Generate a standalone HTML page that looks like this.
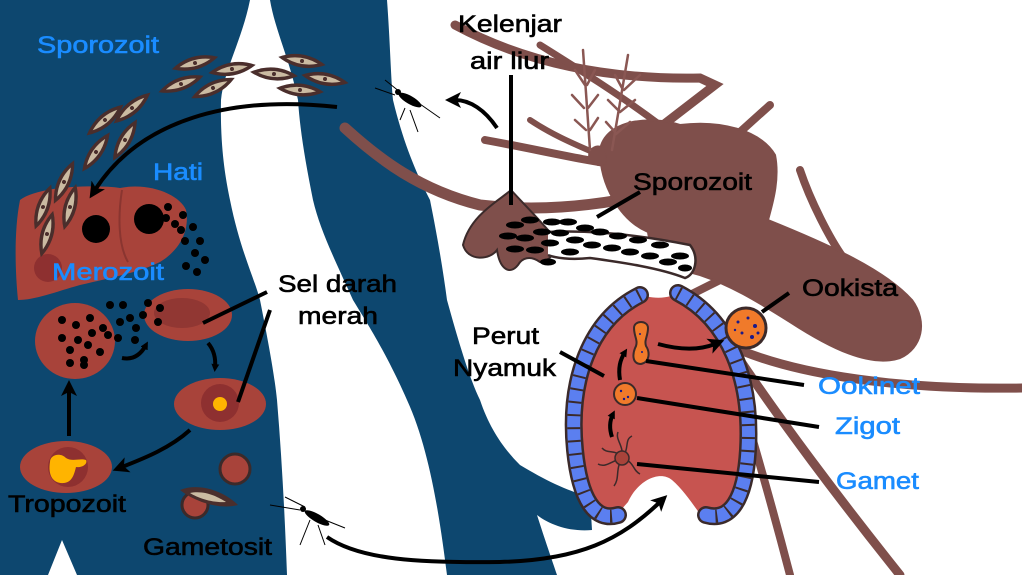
<!DOCTYPE html>
<html><head><meta charset="utf-8"><style>
html,body{margin:0;padding:0;background:#fff;}
svg{display:block;}
text{font-family:"Liberation Sans",sans-serif;font-size:24px;stroke-width:0.6px;}
</style></head><body>
<svg width="1022" height="575" viewBox="0 0 1022 575" xmlns="http://www.w3.org/2000/svg">
<defs>
<g id="spz"><path d="M-24,0 Q0,-13 24,0 Q0,13 -24,0Z" fill="#4a2e2c"/><path d="M-16,0 Q0,-6 16,0 Q0,6 -16,0Z" fill="#cbbba2"/><circle r="2" fill="#4a2e2c"/></g>
<marker id="ah" markerWidth="8" markerHeight="8" refX="4" refY="4" orient="auto" markerUnits="userSpaceOnUse"><path d="M0,0 L8,4 L0,8Z" fill="#000"/></marker>
<marker id="ab" markerWidth="16" markerHeight="16" refX="6" refY="8" orient="auto" markerUnits="userSpaceOnUse"><path d="M0,0 L16,8 L0,16 L4,8Z" fill="#000"/></marker>
</defs>
<!-- blue vessels -->
<path d="M0,0 L250,0 C242,40 224,70 221,100 C220,150 226,180 230,200 C240,250 255,280 260,300 C270,350 275,380 277,400 C282,460 285,520 287,575 L77,575 L62,540 L48,575 L0,575Z" fill="#0d476f"/>
<path d="M270,0 L387,0 C390,40 391,80 393,100 C405,150 420,180 430,200 C438,240 443,270 447,300 C458,340 470,380 480,400 C490,430 505,450 520,465 C545,480 565,490 590,497 L592,530 C570,532 550,525 537,515 C545,540 552,560 557,575 L447,575 C440,520 430,450 407,400 C385,350 365,320 353,300 C335,260 320,230 313,200 C305,160 300,130 298,100 C290,60 275,30 270,0Z" fill="#0d476f"/>
<!-- big mosquito -->
<g fill="#7f4f4b" stroke="#7f4f4b" stroke-linecap="round">
<path d="M455,25 C520,60 600,80 700,78 L715,85 L650,135" fill="none" stroke-width="9"/>
<path d="M540,45 C580,70 620,95 660,125" fill="none" stroke-width="7"/>
<path d="M770,105 L720,150" fill="none" stroke-width="8"/>
<path d="M345,128 C380,160 420,190 480,205 C540,212 590,205 620,200" fill="none" stroke-width="11"/>
<path d="M485,140 C540,150 580,160 620,165" fill="none" stroke-width="8"/>
<path d="M530,120 C560,140 590,150 610,160" fill="none" stroke-width="6"/>
<path d="M800,170 C810,200 830,240 845,260" fill="none" stroke-width="8"/>
<path d="M740,350 C800,375 900,390 1022,388" fill="none" stroke-width="9"/>
<path d="M740,360 C780,420 840,500 900,575" fill="none" stroke-width="9"/>
<path d="M720,330 C735,380 760,460 790,575" fill="none" stroke-width="8"/>
<path d="M680,300 L740,270" fill="none" stroke-width="8"/>
<path d="M600,150 C605,120 650,115 680,125 C720,120 760,130 775,155 C780,180 772,205 768,220 C830,245 885,270 912,300 C928,322 922,348 900,358 C870,368 830,348 790,322 C755,300 730,285 700,275 C670,268 650,250 648,232 C620,220 600,185 600,150Z" stroke-width="2"/>
<path d="M590,150 C600,140 610,150 605,165 C595,168 585,160 590,150Z"/>
</g>
<!-- antennae -->
<g stroke="#8a5753" stroke-width="2.5" fill="none" stroke-linecap="round">
<path d="M583,50 L590,150 M575,70 L585,85 M595,70 L587,85 M572,95 L584,108 M598,95 L588,108 M575,120 L586,130 M598,118 L590,130"/>
<path d="M628,55 L612,150 M615,75 L622,88 M640,75 L624,90 M608,100 L618,110 M635,100 L620,112 M606,122 L615,132 M630,122 L616,134"/>
</g>
<!-- salivary gland -->
<path d="M511,190 C500,200 470,215 463,245 C468,262 490,260 497,250 C500,270 510,275 518,265 C522,258 530,255 540,262 C555,260 560,245 548,230 C535,215 520,200 511,190Z" fill="#7f4f4b" stroke="#3b2a2a" stroke-width="2"/>
<path d="M548,232 C590,230 640,235 690,245 C700,258 695,275 685,278 C660,268 620,262 590,258 C570,260 555,258 548,255" fill="#fff" stroke="#3b2a2a" stroke-width="2.5"/>
<g fill="#000">
<ellipse cx="515" cy="225" rx="9" ry="3.5"/><ellipse cx="530" cy="220" rx="9" ry="3.5"/><ellipse cx="508" cy="236" rx="9" ry="3.5"/><ellipse cx="525" cy="238" rx="9" ry="3.5"/><ellipse cx="542" cy="232" rx="9" ry="3.5"/><ellipse cx="515" cy="249" rx="9" ry="3.5"/><ellipse cx="535" cy="250" rx="9" ry="3.5"/><ellipse cx="550" cy="243" rx="9" ry="3.5"/><ellipse cx="552" cy="222" rx="9" ry="3.5"/><ellipse cx="560" cy="233" rx="9" ry="3.5"/><ellipse cx="568" cy="222" rx="9" ry="3.5"/><ellipse cx="575" cy="240" rx="9" ry="3.5"/><ellipse cx="585" cy="228" rx="9" ry="3.5"/><ellipse cx="592" cy="245" rx="9" ry="3.5"/><ellipse cx="600" cy="232" rx="9" ry="3.5"/><ellipse cx="612" cy="248" rx="9" ry="3.5"/><ellipse cx="618" cy="236" rx="9" ry="3.5"/><ellipse cx="630" cy="252" rx="9" ry="3.5"/><ellipse cx="638" cy="240" rx="9" ry="3.5"/><ellipse cx="650" cy="256" rx="9" ry="3.5"/><ellipse cx="660" cy="245" rx="9" ry="3.5"/><ellipse cx="668" cy="262" rx="9" ry="3.5"/><ellipse cx="680" cy="256" rx="9" ry="3.5"/><ellipse cx="685" cy="268" rx="7" ry="3.5"/><ellipse cx="570" cy="252" rx="9" ry="3.5"/><ellipse cx="548" cy="262" rx="8" ry="3.5"/>
</g>
<line x1="511" y1="75" x2="511" y2="205" stroke="#000" stroke-width="4"/>
<line x1="640" y1="192" x2="597" y2="217" stroke="#000" stroke-width="4"/>
<!-- stomach -->
<path d="M636,292 C590,320 568,380 575,450 C580,500 595,520 612,520 L628,502 C638,480 660,470 672,480 C686,492 696,510 705,520 L712,520 C730,520 745,500 748,450 C752,380 730,320 682,290 C670,300 650,300 636,292Z" fill="#c75450"/>
<g fill="none" stroke-linecap="round">
<path d="M640,295 C590,320 568,380 575,450 C580,500 595,522 618,515" stroke="#3b2a2a" stroke-width="18"/>
<path d="M678,293 C730,320 752,380 748,450 C745,500 730,522 706,515" stroke="#3b2a2a" stroke-width="18"/>
<path d="M640,295 C590,320 568,380 575,450 C580,500 595,522 618,515" stroke="#5b7ff0" stroke-width="13"/>
<path d="M678,293 C730,320 752,380 748,450 C745,500 730,522 706,515" stroke="#5b7ff0" stroke-width="13"/>
<path d="M640,295 C590,320 568,380 575,450 C580,500 595,522 618,515" stroke="#3b2a2a" stroke-width="13" stroke-dasharray="2 11" stroke-linecap="butt"/>
<path d="M678,293 C730,320 752,380 748,450 C745,500 730,522 706,515" stroke="#3b2a2a" stroke-width="13" stroke-dasharray="2 11" stroke-linecap="butt"/>
</g>
<!-- ookista -->
<circle cx="746" cy="328" r="20" fill="#f07a2a" stroke="#3b2a2a" stroke-width="3"/>
<g fill="#1a1a8a"><circle cx="738" cy="322" r="1.5"/><circle cx="748" cy="318" r="1.5"/><circle cx="755" cy="326" r="2"/><circle cx="742" cy="333" r="1.5"/><circle cx="752" cy="337" r="2"/><circle cx="735" cy="330" r="1.2"/><circle cx="758" cy="333" r="1.5"/></g>
<line x1="762" y1="312" x2="789" y2="293" stroke="#000" stroke-width="4"/>
<!-- ookinet -->
<path d="M634,328 C634,320 648,320 648,328 C648,336 644,340 646,346 C650,352 650,362 641,364 C632,364 632,354 636,346 C638,340 634,336 634,328Z" fill="#f07a2a" stroke="#3b2a2a" stroke-width="2"/>
<circle cx="625" cy="394" r="11" fill="#f07a2a" stroke="#3b2a2a" stroke-width="2"/>
<g fill="#1a1a8a"><circle cx="621" cy="391" r="1.2"/><circle cx="628" cy="397" r="1.2"/><circle cx="624" cy="399" r="1.2"/><circle cx="640" cy="334" r="1"/><circle cx="642" cy="352" r="1"/></g>
<!-- gamet -->
<g stroke="#3b2a2a" stroke-width="1.5" fill="none"><path d="M622,458 C615,448 608,455 602,448 M622,458 C630,448 624,440 632,436 M622,458 C635,462 632,470 640,474 M622,458 C615,470 620,478 614,486 M622,458 C610,462 605,468 598,464 M622,458 C624,445 615,440 618,432"/></g>
<circle cx="622" cy="458" r="7" fill="#a8433a" stroke="#3b2a2a" stroke-width="1.5"/>
<g stroke="#000" stroke-width="4" fill="none">
<line x1="646" y1="361" x2="804" y2="385"/>
<line x1="637" y1="398" x2="819" y2="427"/>
<line x1="637" y1="464" x2="819" y2="482"/>
<line x1="560" y1="352" x2="604" y2="376"/>
<path d="M612,437 C609,428 610,420 613,414" marker-end="url(#ah)"/>
<path d="M620,380 C618,368 620,360 625,352" marker-end="url(#ah)"/>
<path d="M658,344 C680,350 700,350 715,344" marker-end="url(#ab)"/>
</g>
<!-- liver -->
<path d="M20,200 C40,185 100,185 120,188 C150,182 180,195 186,210 C190,230 180,250 160,262 C140,272 110,278 80,285 C55,292 35,300 18,300 C15,270 14,230 20,200Z" fill="#a8433a"/>
<path d="M122,190 C118,215 118,245 128,262" stroke="#8a3530" stroke-width="2" fill="none"/>
<ellipse cx="48" cy="268" rx="14" ry="14" fill="#8e3030"/>
<circle cx="96" cy="229" r="14" fill="#000"/>
<circle cx="149" cy="219" r="15" fill="#000"/>
<g fill="#000"><circle cx="168" cy="207" r="4"/><circle cx="166" cy="218" r="4"/><circle cx="175" cy="224" r="4"/><circle cx="183" cy="215" r="4"/><circle cx="181" cy="230" r="4"/><circle cx="193" cy="227" r="4"/><circle cx="185" cy="241" r="4"/><circle cx="200" cy="241" r="4"/><circle cx="195" cy="253" r="4"/><circle cx="205" cy="260" r="4"/><circle cx="186" cy="266" r="4"/><circle cx="197" cy="272" r="4"/></g>
<!-- sporozoites -->
<use href="#spz" transform="translate(195,63) rotate(-15)"/>
<use href="#spz" transform="translate(232,69) rotate(-10)"/>
<use href="#spz" transform="translate(274,74) rotate(5)"/>
<use href="#spz" transform="translate(302,61) rotate(10)"/>
<use href="#spz" transform="translate(325,79) rotate(10)"/>
<use href="#spz" transform="translate(300,90) rotate(5)"/>
<use href="#spz" transform="translate(181,84) rotate(-20)"/>
<use href="#spz" transform="translate(213,88) rotate(-25)"/>
<use href="#spz" transform="translate(105,120) rotate(-40)"/>
<use href="#spz" transform="translate(132,108) rotate(-40)"/>
<use href="#spz" transform="translate(125,140) rotate(-60)"/>
<use href="#spz" transform="translate(96,152) rotate(-55)"/>
<use href="#spz" transform="translate(64,182) rotate(-65)"/>
<use href="#spz" transform="translate(43,207) rotate(-70)"/>
<use href="#spz" transform="translate(70,207) rotate(-75)"/>
<use href="#spz" transform="translate(47,234) rotate(-75)"/>
<!-- RBCs -->
<ellipse cx="75" cy="341" rx="40" ry="38" fill="#a8433a"/>
<ellipse cx="188" cy="315" rx="44" ry="26" fill="#a8433a"/>
<ellipse cx="182" cy="313" rx="28" ry="15" fill="#913733"/>
<g fill="#000"><circle cx="62" cy="320" r="4"/><circle cx="76" cy="325" r="4"/><circle cx="90" cy="318" r="4"/><circle cx="92" cy="333" r="4"/><circle cx="62" cy="338" r="4"/><circle cx="78" cy="340" r="4"/><circle cx="88" cy="345" r="4"/><circle cx="70" cy="350" r="4"/><circle cx="84" cy="360" r="4"/><circle cx="100" cy="352" r="4"/><circle cx="84" cy="365" r="4"/><circle cx="103" cy="328" r="4"/><circle cx="110" cy="305" r="4"/><circle cx="123" cy="305" r="4"/><circle cx="130" cy="318" r="4"/><circle cx="120" cy="322" r="4"/><circle cx="108" cy="335" r="4"/><circle cx="118" cy="338" r="4"/><circle cx="136" cy="328" r="4"/><circle cx="143" cy="315" r="4"/><circle cx="135" cy="340" r="4"/><circle cx="148" cy="303" r="4"/><circle cx="160" cy="308" r="4"/><circle cx="158" cy="322" r="4"/><circle cx="70" cy="363" r="4"/></g>
<ellipse cx="220" cy="404" rx="46" ry="26" fill="#a8433a"/>
<circle cx="220" cy="403" r="19" fill="#8e3030"/>
<circle cx="220" cy="404" r="7" fill="#ffb400"/>
<ellipse cx="66" cy="467" rx="46" ry="26" fill="#a8433a"/>
<circle cx="68" cy="467" r="20" fill="#8e3030"/>
<path d="M50,462 C50,455 60,452 66,458 C72,462 80,458 86,460 C88,464 82,468 76,467 C74,475 72,482 64,483 C52,484 48,474 50,462Z" fill="#ffb400"/>
<circle cx="235" cy="469" r="15" fill="#a8433a" stroke="#3b2a2a" stroke-width="3"/>
<circle cx="195" cy="505" r="13" fill="#a8433a" stroke="#3b2a2a" stroke-width="3"/>
<path d="M180,490 C200,482 225,492 238,505 C220,510 195,502 180,490Z" fill="#4a2e2c"/>
<path d="M190,493 C205,490 218,497 226,502 C212,503 198,498 190,493Z" fill="#cbbba2"/>
<!-- arrows left -->
<g stroke="#000" stroke-width="4" fill="none">
<path d="M337,107 C230,95 140,120 95,190" marker-end="url(#ab)"/>
<line x1="69" y1="436" x2="69" y2="390" marker-end="url(#ab)"/>
<path d="M122,358 C132,360 140,356 146,345" marker-end="url(#ah)"/>
<path d="M208,343 C214,350 216,358 215,368" marker-end="url(#ah)"/>
<path d="M190,430 C170,448 145,458 122,467" marker-end="url(#ab)"/>
<line x1="267" y1="292" x2="203" y2="323"/>
<line x1="270" y1="310" x2="238" y2="402"/>
<path d="M497,128 C485,110 470,100 455,100" marker-end="url(#ab)"/>
<path d="M327,537 C360,560 420,563 500,562 C580,560 620,540 660,502" marker-end="url(#ab)"/>
</g>
<!-- small mosquitoes -->
<g stroke="#000" stroke-width="1" fill="none">
<path d="M375,88 L395,95 M385,80 L400,92 M410,110 L418,132 M405,108 L400,120 M420,104 L440,118"/>
<path d="M270,505 L300,510 M285,497 L305,507 M310,520 L300,545 M318,525 L325,545 M325,520 L345,528"/>
</g>
<ellipse cx="410" cy="100" rx="13" ry="4" transform="rotate(30 410 100)" fill="#000"/>
<circle cx="398" cy="92" r="3" fill="#000"/>
<ellipse cx="317" cy="518" rx="14" ry="4" transform="rotate(30 317 518)" fill="#000"/>
<circle cx="303" cy="509" r="3" fill="#000"/>
<!-- labels -->
<g fill="#1a8cff" stroke="#1a8cff">
<text x="37" y="53" textLength="122" lengthAdjust="spacingAndGlyphs">Sporozoit</text>
<text x="153" y="180" textLength="50" lengthAdjust="spacingAndGlyphs">Hati</text>
<text x="52" y="280" textLength="112" lengthAdjust="spacingAndGlyphs">Merozoit</text>
<text x="818" y="394" textLength="102" lengthAdjust="spacingAndGlyphs">Ookinet</text>
<text x="835" y="434" textLength="65" lengthAdjust="spacingAndGlyphs">Zigot</text>
<text x="836" y="489" textLength="83" lengthAdjust="spacingAndGlyphs">Gamet</text>
</g>
<g fill="#000" stroke="#000">
<text x="278" y="292" textLength="119" lengthAdjust="spacingAndGlyphs">Sel darah</text>
<text x="298" y="324" textLength="80" lengthAdjust="spacingAndGlyphs">merah</text>
<text x="8" y="512" textLength="118" lengthAdjust="spacingAndGlyphs">Tropozoit</text>
<text x="143" y="555" textLength="129" lengthAdjust="spacingAndGlyphs">Gametosit</text>
<text x="458" y="32" textLength="104" lengthAdjust="spacingAndGlyphs">Kelenjar</text>
<text x="470" y="69" textLength="79" lengthAdjust="spacingAndGlyphs">air liur</text>
<text x="633" y="190" textLength="119" lengthAdjust="spacingAndGlyphs">Sporozoit</text>
<text x="802" y="296" textLength="96" lengthAdjust="spacingAndGlyphs">Ookista</text>
<text x="472" y="344" textLength="67" lengthAdjust="spacingAndGlyphs">Perut</text>
<text x="453" y="376" textLength="103" lengthAdjust="spacingAndGlyphs">Nyamuk</text>
</g>
</svg>
</body></html>
